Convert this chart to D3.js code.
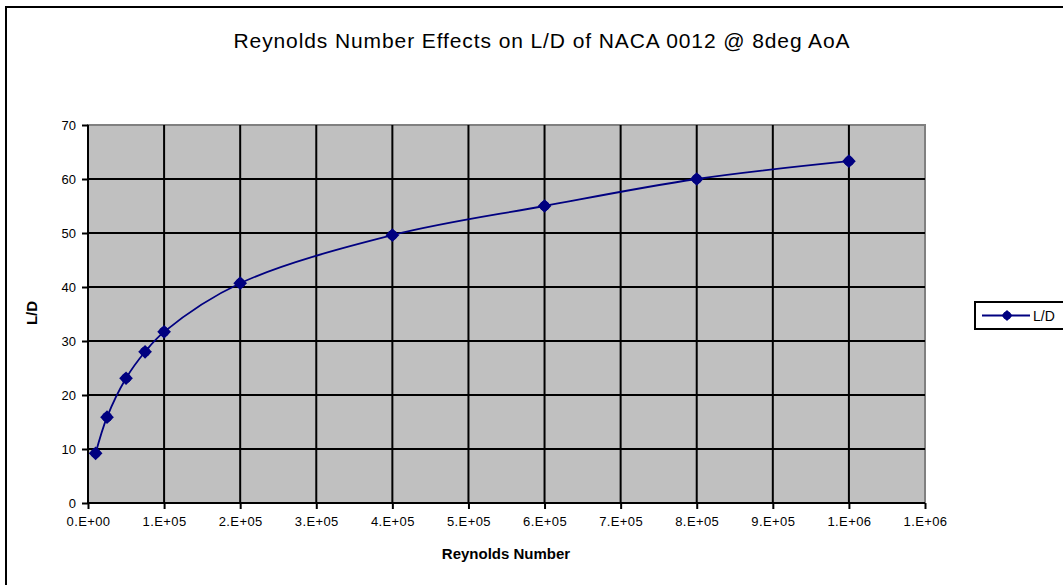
<!DOCTYPE html>
<html>
<head>
<meta charset="utf-8">
<script src="https://cdn.jsdelivr.net/npm/d3@7"></script>
<style>
  body { margin: 0; background: #fff; }
  svg { display: block; font-family: "Liberation Sans", Arial, sans-serif; }
</style>
</head>
<body>
<div id="chart"></div>
<script>
// data
var reynolds = [1e4, 2.5e4, 5e4, 7.5e4, 1e5, 2e5, 4e5, 6e5, 8e5, 1e6];
var liftDrag = [9.2, 15.9, 23.1, 28.0, 31.7, 40.7, 49.6, 55.0, 60.0, 63.3];
var xTicks = [0, 1e5, 2e5, 3e5, 4e5, 5e5, 6e5, 7e5, 8e5, 9e5, 1e6, 1.1e6];
var yTicks = [0, 10, 20, 30, 40, 50, 60, 70];

var W = 1063, H = 585;
var pLeft = 88, pRight = 925, pTop = 125, pBottom = 503;
var navy = "#000080";

var svg = d3.select("#chart").append("svg")
    .attr("width", W)
    .attr("height", H);

// outer chart border
svg.append("rect")
    .attr("x", 6).attr("y", 7)
    .attr("width", W + 10).attr("height", H + 10)
    .attr("fill", "none")
    .attr("stroke", "#000")
    .attr("stroke-width", 2);

var x = d3.scaleLinear().domain([0, 1.1e6]).range([pLeft, pRight]);
var y = d3.scaleLinear().domain([0, 70]).range([pBottom, pTop]);

// plot area
svg.append("rect")
    .attr("x", pLeft).attr("y", pTop)
    .attr("width", pRight - pLeft).attr("height", pBottom - pTop)
    .attr("fill", "#c0c0c0")
    .attr("stroke", "#808080")
    .attr("stroke-width", 2);

// grid
svg.append("g").selectAll("line")
    .data(xTicks.slice(1, -1))
    .enter().append("line")
    .attr("x1", function(d) { return x(d); })
    .attr("x2", function(d) { return x(d); })
    .attr("y1", pTop).attr("y2", pBottom)
    .attr("stroke", "#000").attr("stroke-width", 2);

svg.append("g").selectAll("line")
    .data(yTicks.slice(1, -1))
    .enter().append("line")
    .attr("y1", function(d) { return y(d); })
    .attr("y2", function(d) { return y(d); })
    .attr("x1", pLeft).attr("x2", pRight)
    .attr("stroke", "#000").attr("stroke-width", 2);

// axes
var fmt = function(d) {
    var e = d === 0 ? 0 : Math.floor(Math.log10(d) + 1e-9);
    var m = Math.round(d / Math.pow(10, e));
    return m + ".E+" + (e < 10 ? "0" + e : e);
};

var xAxis = svg.append("g")
    .attr("transform", "translate(0," + pBottom + ")")
    .call(d3.axisBottom(x).tickValues(xTicks).tickSize(6).tickPadding(8).tickFormat(fmt));
var yAxis = svg.append("g")
    .attr("transform", "translate(" + pLeft + ",0)")
    .call(d3.axisLeft(y).tickValues(yTicks).tickSize(6).tickPadding(6));

[xAxis, yAxis].forEach(function(a) {
    a.select(".domain").attr("stroke", "#000").attr("stroke-width", 2);
    a.selectAll(".tick line").attr("stroke", "#000").attr("stroke-width", 2);
    a.selectAll(".tick text").attr("fill", "#000").style("font-size", "13px");
});
xAxis.selectAll(".tick text").style("letter-spacing", "0.4px");
xAxis.select(".domain").attr("d", "M" + pLeft + ",0H" + pRight);
yAxis.select(".domain").attr("d", "M0," + pTop + "V" + pBottom);

// series
var pts = reynolds.map(function(r, i) { return [r, liftDrag[i]]; });
var line = d3.line()
    .x(function(d) { return x(d[0]); })
    .y(function(d) { return y(d[1]); })
    .curve(d3.curveCatmullRom.alpha(0.5));

svg.append("path")
    .datum(pts)
    .attr("d", line)
    .attr("fill", "none")
    .attr("stroke", navy)
    .attr("stroke-width", 1.8);

var diamond = d3.symbol().type(d3.symbolDiamond2).size(120);
function marker(g) {
    g.append("path").attr("d", diamond).attr("fill", navy);
    g.append("circle").attr("r", 5).attr("fill", navy);
}
svg.append("g").selectAll("g")
    .data(pts)
    .enter().append("g")
    .attr("transform", function(d) { return "translate(" + x(d[0]) + "," + y(d[1]) + ")"; })
    .call(marker);

// titles
svg.append("text")
    .attr("x", 542).attr("y", 48)
    .attr("text-anchor", "middle")
    .style("font-size", "21px")
    .style("letter-spacing", "0.9px")
    .text("Reynolds Number Effects on L/D of NACA 0012 @ 8deg AoA");

svg.append("text")
    .attr("x", 506).attr("y", 559)
    .attr("text-anchor", "middle")
    .style("font-size", "15px")
    .style("font-weight", "bold")
    .text("Reynolds Number");

svg.append("text")
    .attr("transform", "translate(37,313) rotate(-90)")
    .attr("text-anchor", "middle")
    .style("font-size", "15px")
    .style("font-weight", "bold")
    .text("L/D");

// legend
var lg = svg.append("g").attr("transform", "translate(975,302)");
lg.append("rect")
    .attr("width", 100).attr("height", 27)
    .attr("fill", "#fff")
    .attr("stroke", "#000").attr("stroke-width", 2);
lg.append("line")
    .attr("x1", 7).attr("x2", 55).attr("y1", 13.5).attr("y2", 13.5)
    .attr("stroke", navy).attr("stroke-width", 1.8);
lg.append("g")
    .attr("transform", "translate(32,13.5) scale(0.8)")
    .call(marker);
lg.append("text")
    .attr("x", 58).attr("y", 19)
    .style("font-size", "14px")
    .text("L/D");
</script>
</body>
</html>
